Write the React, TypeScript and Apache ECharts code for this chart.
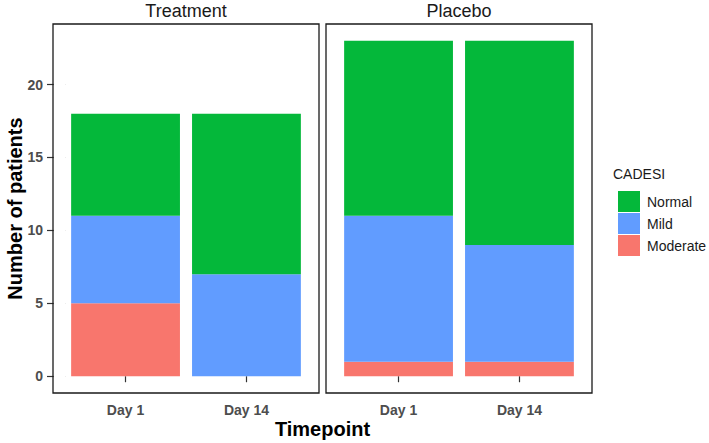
import React, { useEffect, useRef } from "react";
import * as echarts from "echarts";

// Timepoints on the x axis of each panel
const timepoints = ["Day 1", "Day 14"];
const panels = ["Treatment", "Placebo"];

// CADESI severity counts per timepoint
const treatmentModerate = [5, 0];
const treatmentMild = [6, 7];
const treatmentNormal = [7, 11];
const placeboModerate = [1, 1];
const placeboMild = [10, 8];
const placeboNormal = [12, 14];

const yTicks = [0, 5, 10, 15, 20];
const legendOrder = ["Normal", "Mild", "Moderate"];

const colors: Record<string, string> = {
  Normal: "#04B83A",
  Mild: "#619CFF",
  Moderate: "#F8766D",
};

const sansFont = "Liberation Sans, Arial, sans-serif";

const panelData = [
  { Moderate: treatmentModerate, Mild: treatmentMild, Normal: treatmentNormal },
  { Moderate: placeboModerate, Mild: placeboMild, Normal: placeboNormal },
];

// Panel frames; the data area sits 0.1 band inside each frame on both sides
const panelLefts = [53, 326];
const panelWidth = 266;
const panelTop = 24;
const panelHeight = 369;
const inset = panelWidth / 22;

export default function App() {
  const ref = useRef<HTMLDivElement>(null);

  useEffect(() => {
    if (!ref.current) return;
    const chart = echarts.init(ref.current, null, { renderer: "svg" });

    const dataGrids = panelLefts.map((left) => ({
      left: left + inset,
      top: panelTop,
      width: panelWidth - 2 * inset,
      height: panelHeight,
      containLabel: false,
    }));
    const frameGrids = panelLefts.map((left) => ({
      left,
      top: panelTop,
      width: panelWidth,
      height: panelHeight,
      show: true,
      borderColor: "#1a1a1a",
      borderWidth: 1.3,
      backgroundColor: "transparent",
      z: 3,
    }));

    const xAxes = panelLefts.map((_, i) => ({
      type: "category",
      gridIndex: i,
      data: timepoints,
      boundaryGap: true,
      axisLine: { show: false },
      splitLine: { show: false },
      axisTick: {
        show: true,
        length: 6,
        alignWithLabel: true,
        lineStyle: { color: "#333333", width: 1.2 },
      },
      axisLabel: {
        show: true,
        margin: 10,
        color: "#4D4D4D",
        fontWeight: "bold",
        fontSize: 14,
        fontFamily: sansFont,
      },
    }));

    const yAxes = panelLefts.map((_, i) => ({
      type: "value",
      gridIndex: i,
      min: -1.15,
      max: 24.15,
      axisLine: { show: false },
      splitLine: { show: false },
      axisTick: {
        show: i === 0,
        length: 6 + inset,
        customValues: yTicks,
        lineStyle: { color: "#333333", width: 1.2 },
      },
      axisLabel: {
        show: i === 0,
        customValues: yTicks,
        margin: 10 + inset,
        color: "#4D4D4D",
        fontWeight: "bold",
        fontSize: 14,
        fontFamily: sansFont,
      },
    }));

    const series: any[] = [];
    panelData.forEach((pd, i) => {
      (["Moderate", "Mild", "Normal"] as const).forEach((lvl) => {
        series.push({
          type: "bar",
          name: lvl,
          xAxisIndex: i,
          yAxisIndex: i,
          stack: "panel" + i,
          barWidth: "90%",
          itemStyle: { color: colors[lvl] },
          data: pd[lvl],
        });
      });
    });

    const graphic: any[] = [
      // white mask hiding the long y-tick stubs inside the left frame
      {
        type: "rect",
        shape: { x: panelLefts[0] + 0.7, y: panelTop + 1, width: inset - 0.7, height: panelHeight - 2 },
        style: { fill: "#ffffff" },
        z: 1,
      },
      ...panels.map((p, i) => ({
        type: "text",
        x: panelLefts[i] + panelWidth / 2,
        y: 11,
        style: {
          text: p,
          textAlign: "center",
          textVerticalAlign: "middle",
          fontSize: 18,
          fontFamily: sansFont,
          fill: "#1a1a1a",
        },
      })),
      {
        type: "text",
        x: (panelLefts[0] + panelLefts[1] + panelWidth) / 2,
        y: 429,
        style: {
          text: "Timepoint",
          textAlign: "center",
          textVerticalAlign: "middle",
          fontSize: 20,
          fontWeight: "bold",
          fontFamily: sansFont,
          fill: "#000000",
        },
      },
      {
        type: "text",
        x: 15,
        y: panelTop + panelHeight / 2,
        rotation: Math.PI / 2,
        style: {
          text: "Number of patients",
          textAlign: "center",
          textVerticalAlign: "middle",
          fontSize: 20,
          fontWeight: "bold",
          fontFamily: sansFont,
          fill: "#000000",
        },
      },
      {
        type: "text",
        x: 613,
        y: 174,
        style: {
          text: "CADESI",
          textAlign: "left",
          textVerticalAlign: "middle",
          fontSize: 14,
          fontFamily: sansFont,
          fill: "#1a1a1a",
        },
      },
    ];

    chart.setOption({
      animation: false,
      backgroundColor: "#ffffff",
      grid: [...dataGrids, ...frameGrids],
      xAxis: xAxes,
      yAxis: yAxes,
      series,
      graphic,
      legend: {
        data: legendOrder,
        orient: "vertical",
        left: 613,
        top: 186,
        itemWidth: 22,
        itemHeight: 21,
        itemGap: 1,
        icon: "rect",
        selectedMode: false,
        textStyle: {
          fontSize: 14,
          fontFamily: sansFont,
          color: "#1a1a1a",
          padding: [0, 0, 0, 2],
        },
      },
    });

    return () => chart.dispose();
  }, []);

  return (
    <div
      ref={ref}
      style={{ position: "fixed", left: 0, top: 0, width: 709, height: 443 }}
    />
  );
}
